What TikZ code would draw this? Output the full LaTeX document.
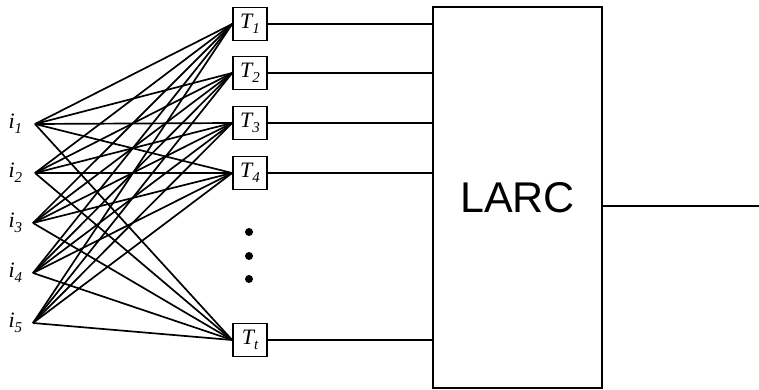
\documentclass[tikz,border=0pt]{standalone}
\usepackage{fontspec}
\setmainfont{Liberation Serif}
\newfontfamily\larcfont{Liberation Sans}
\newcommand{\mysub}[1]{\raisebox{-5pt}{\fontsize{15}{15}\selectfont #1}}
\begin{document}
\begin{tikzpicture}[x=1pt,y=-1pt,line width=1.7pt,
  tbox/.style={draw,minimum width=34pt,minimum height=33pt,inner sep=0pt,font=\fontsize{22}{22}\selectfont\itshape},
  ilabel/.style={anchor=east,inner sep=0pt,font=\fontsize{22}{22}\selectfont\itshape},
  dotmark/.style={circle,fill,inner sep=0pt,minimum size=8pt},
  larcbox/.style={draw,minimum width=169pt,minimum height=381pt,inner sep=0pt,font=\larcfont\fontsize{43}{44}\selectfont}]
\useasboundingbox (0,0) rectangle (759,390);
% input points
\coordinate (p1) at (35,124);
\coordinate (p2) at (35,173);
\coordinate (p3) at (33,223);
\coordinate (p4) at (33,273);
\coordinate (p5) at (33,323);
\node[ilabel] (l1) at (23,124) {i\mysub{1}};
\node[ilabel] (l2) at (23,173) {i\mysub{2}};
\node[ilabel] (l3) at (23,223) {i\mysub{3}};
\node[ilabel] (l4) at (23,273) {i\mysub{4}};
\node[ilabel] (l5) at (23,323) {i\mysub{5}};
% T boxes
\node[tbox] (T1) at (250,24) {T\mysub{1}};
\node[tbox] (T2) at (250,73) {T\mysub{2}};
\node[tbox] (T3) at (250,123) {T\mysub{3}};
\node[tbox] (T4) at (250,173) {T\mysub{4}};
\node[tbox] (T5) at (250,340) {T\mysub{t}};
% dots
\node[dotmark] (d1) at (249,232) {};
\node[dotmark] (d2) at (249,256) {};
\node[dotmark] (d3) at (249,279) {};
% LARC
\node[larcbox] (L) at (517.5,197.5) {LARC};
\coordinate (out) at (759,206);
% connections
\foreach \i in {1,...,5}{
  \foreach \j in {1,...,5}{
    \draw (p\i) -- (T\j.west);
  }
  \draw[line width=1.4pt] (T\i.east) -- (T\i.east -| L.west);
}
\draw[line width=1.4pt] (L.east |- out) -- (out);
\end{tikzpicture}
\end{document}
